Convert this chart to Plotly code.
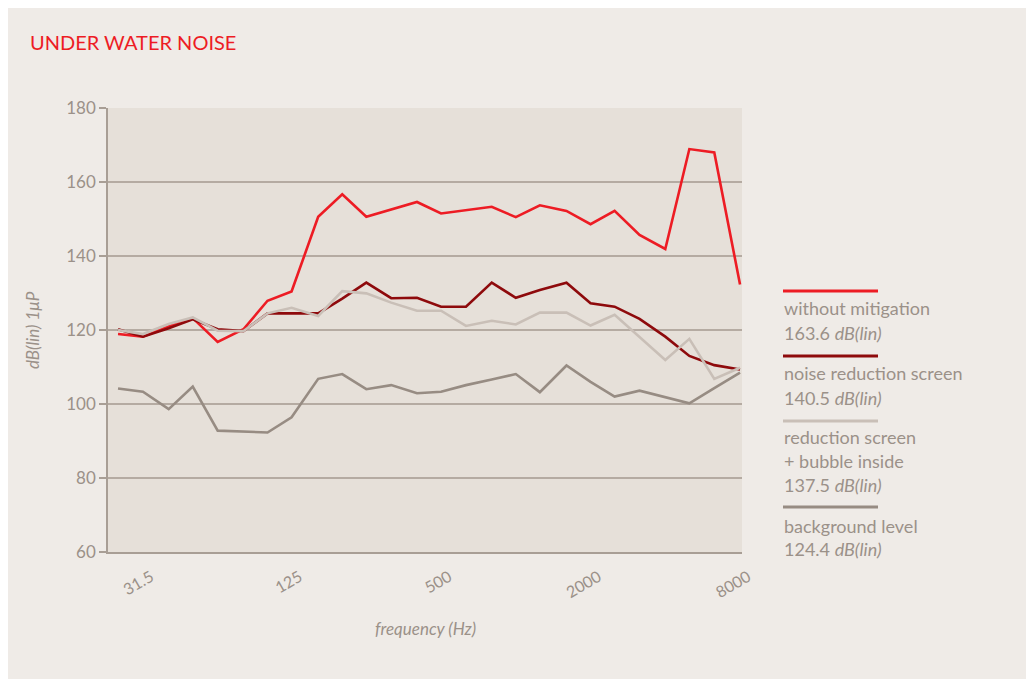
import plotly.graph_objects as go

# 1/3-octave band centre frequencies (Hz)
freqs = [25, 31.5, 40, 50, 63, 80, 100, 125, 160, 200, 250, 315, 400, 500,
         630, 800, 1000, 1250, 1600, 2000, 2500, 3150, 4000, 5000, 6300, 8000]

without_mitigation = [118.9, 118.2, 121.0, 123.2, 116.8, 120.2, 127.9, 130.4, 150.6, 156.7,
                      150.6, 152.6, 154.6, 151.5, 152.4, 153.3, 150.5, 153.7, 152.2, 148.6,
                      152.2, 145.7, 141.9, 168.9, 168.0, 132.3]
noise_reduction_screen = [120.2, 118.2, 120.5, 122.9, 120.2, 119.7, 124.5, 124.5, 124.5, 128.5,
                          132.8, 128.6, 128.7, 126.3, 126.3, 132.8, 128.7, 130.8, 132.8, 127.2,
                          126.3, 123.0, 118.2, 113.0, 110.5, 109.3]
screen_bubble = [120.0, 118.9, 121.6, 123.4, 119.8, 119.7, 124.5, 126.0, 123.8, 130.5,
                 129.9, 127.4, 125.2, 125.2, 121.1, 122.5, 121.5, 124.7, 124.7, 121.2,
                 124.1, 118.0, 111.9, 117.6, 106.8, 109.8]
background_level = [104.2, 103.3, 98.6, 104.7, 92.8, 92.6, 92.3, 96.4, 106.8, 108.1,
                    104.0, 105.1, 102.9, 103.3, 105.1, 106.6, 108.1, 103.2, 110.4, 106.0,
                    102.0, 103.6, 101.9, 100.2, 104.3, 108.5]

series_names = ["without mitigation", "noise reduction screen",
                "reduction screen + bubble inside", "background level"]
series_totals = ["163.6", "140.5", "137.5", "124.4"]
series_values = [without_mitigation, noise_reduction_screen, screen_bubble, background_level]
series_colors = ["#ED1C24", "#8E0A0C", "#C9BFB7", "#978C83"]

x_ticks = [31.5, 125, 500, 2000, 8000]
x_ticktext = ["31.5", "125", "500", "2000", "8000"]

TEXT = "#9B9189"
FONT = "Lato, 'Open Sans', sans-serif"
W, H = 1034, 679
OFF = 8  # browser body margin
L, R, T, B = 108, 742, 108, 552  # plot area in page pixels

fig = go.Figure()
for name, vals, col in zip(series_names, series_values, series_colors):
    fig.add_trace(go.Scatter(x=freqs, y=vals, mode="lines", name=name,
                             line=dict(color=col, width=2.6), showlegend=False))

def px(x):
    return (x - L) / (R - L)

def py(y):
    return (B - y) / (B - T)

annotations = [
    dict(text="UNDER WATER NOISE", x=px(28), y=py(42), xanchor="left", yanchor="middle",
         font=dict(size=20, color="#ED1C24", family=FONT)),
    dict(text="<i>frequency (Hz)</i>", x=px(425), y=py(628), xanchor="center", yanchor="middle",
         font=dict(size=17, color=TEXT, family=FONT)),
    dict(text="<i>dB(lin) 1μP</i>", x=px(32), y=py(330), xanchor="center", yanchor="middle",
         textangle=-90, font=dict(size=17, color=TEXT, family=FONT)),
]

legend_lines_y = [291, 356, 421, 507]
legend_text = [
    [("without mitigation", 308), (series_totals[0] + " <i>dB(lin)</i>", 333)],
    [("noise reduction screen", 373), (series_totals[1] + " <i>dB(lin)</i>", 398)],
    [("reduction screen", 437), ("+ bubble inside", 461), (series_totals[2] + " <i>dB(lin)</i>", 485)],
    [("background level", 526), (series_totals[3] + " <i>dB(lin)</i>", 549)],
]
shapes = []
for ly, col, texts in zip(legend_lines_y, series_colors, legend_text):
    shapes.append(dict(type="line", xref="paper", yref="paper", x0=px(783), x1=px(878),
                       y0=py(ly), y1=py(ly), line=dict(color=col, width=3)))
    for t, ty in texts:
        annotations.append(dict(text=t, x=px(782), y=py(ty), xanchor="left", yanchor="middle",
                                font=dict(size=18, color=TEXT, family=FONT)))
for a in annotations:
    a.update(xref="paper", yref="paper", showarrow=False)

fig.update_layout(
    width=W - OFF, height=H - OFF,
    margin=dict(l=L - OFF, r=W - R, t=T - OFF, b=H - B),
    paper_bgcolor="#EFEBE7", plot_bgcolor="#E6E0D9",
    font=dict(family=FONT, color=TEXT, size=16),
    annotations=annotations, shapes=shapes,
    xaxis=dict(type="log", range=[1.3576, 3.911], tickvals=x_ticks, ticktext=x_ticktext,
               tickangle=-30, showgrid=False, zeroline=False, showline=True,
               linecolor="#A89E95", linewidth=1.5, ticks="", tickfont=dict(size=16, color=TEXT),
               ticklabelshift=8, ticklabelstandoff=8),
    yaxis=dict(range=[60, 180], dtick=20, showgrid=True, gridcolor="#B5ABA2", gridwidth=1.5,
               zeroline=False, showline=True, linecolor="#A89E95", linewidth=1.5,
               ticks="outside", ticklen=7, tickcolor="#A89E95", tickwidth=1.5,
               tickfont=dict(size=17, color=TEXT)),
)

fig.write_html("out.html")
